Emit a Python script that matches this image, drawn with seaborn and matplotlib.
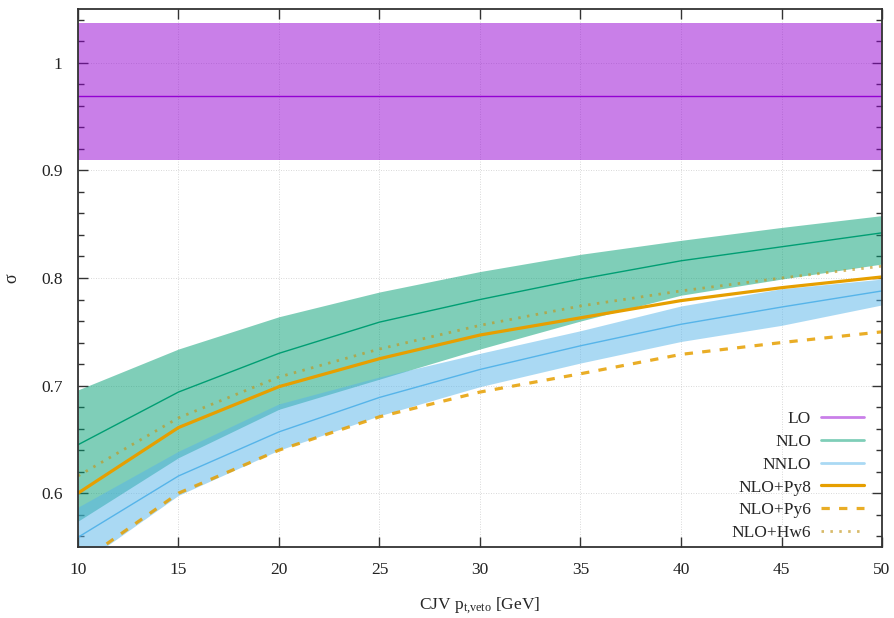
import matplotlib
matplotlib.use("Agg")
import matplotlib.pyplot as plt
import seaborn as sns
import numpy as np
from matplotlib.lines import Line2D
from matplotlib.ticker import MultipleLocator, FormatStrFormatter

# ---- data ----
pt = [10, 15, 20, 25, 30, 35, 40, 45, 50]

lo_center = [0.969] * 9
lo_low = [0.910] * 9
lo_high = [1.037] * 9

nlo_center = [0.645, 0.694, 0.730, 0.759, 0.780, 0.799, 0.816, 0.829, 0.842]
nlo_high = [0.696, 0.734, 0.764, 0.787, 0.806, 0.822, 0.835, 0.847, 0.858]
nlo_low = [0.574, 0.633, 0.678, 0.706, 0.734, 0.760, 0.784, 0.799, 0.813]

nnlo_center = [0.559, 0.616, 0.657, 0.689, 0.715, 0.737, 0.757, 0.773, 0.788]
nnlo_high = [0.587, 0.639, 0.683, 0.708, 0.730, 0.751, 0.774, 0.790, 0.799]
nnlo_low = [0.532, 0.598, 0.640, 0.672, 0.699, 0.721, 0.741, 0.756, 0.775]

py8 = [0.600, 0.661, 0.699, 0.725, 0.747, 0.763, 0.779, 0.791, 0.801]
py6 = [0.534, 0.600, 0.640, 0.671, 0.694, 0.711, 0.729, 0.740, 0.750]
hw6 = [0.616, 0.670, 0.708, 0.734, 0.756, 0.774, 0.788, 0.800, 0.811]

labels = ["LO", "NLO", "NNLO", "NLO+Py8", "NLO+Py6", "NLO+Hw6"]

# ---- style ----
sns.set_style("ticks")
plt.rcParams["font.family"] = ["Liberation Serif", "DejaVu Serif"]
plt.rcParams["mathtext.fontset"] = "custom"
plt.rcParams["mathtext.rm"] = "Liberation Serif"
plt.rcParams["mathtext.it"] = "Liberation Serif:italic"

C_LO = "#9400d3"
C_NLO = "#009e73"
C_NNLO = "#56b4e9"
C_PY = "#e69f00"
C_HW = "#c4961a"

fig = plt.figure(figsize=(8.94, 6.18), dpi=100)
ax = fig.add_axes([0.0872, 0.1149, 0.8994, 0.8705])

# bands
ax.fill_between(pt, lo_low, lo_high, color=C_LO, alpha=0.5, lw=0)
ax.fill_between(pt, nlo_low, nlo_high, color=C_NLO, alpha=0.5, lw=0)
ax.fill_between(pt, nnlo_low, nnlo_high, color=C_NNLO, alpha=0.5, lw=0)

# central lines
sns.lineplot(x=pt, y=lo_center, ax=ax, color=C_LO, lw=1.0)
sns.lineplot(x=pt, y=nlo_center, ax=ax, color=C_NLO, lw=1.0)
sns.lineplot(x=pt, y=nnlo_center, ax=ax, color=C_NNLO, lw=1.0)
sns.lineplot(x=pt, y=hw6, ax=ax, color=C_HW, alpha=0.65, lw=2.0,
             linestyle=(0, (0.9, 2.3)))
sns.lineplot(x=pt, y=py6, ax=ax, color=C_PY, alpha=0.85, lw=2.3,
             linestyle=(0, (2.6, 2.9)))
sns.lineplot(x=pt, y=py8, ax=ax, color=C_PY, lw=2.3)

ax.set_xlim(10, 50)
ax.set_ylim(0.55, 1.05)
ax.xaxis.set_major_locator(MultipleLocator(5))
ax.yaxis.set_major_locator(MultipleLocator(0.1))
ax.yaxis.set_minor_locator(MultipleLocator(0.02))
ax.yaxis.set_major_formatter(FormatStrFormatter("%g"))

ax.tick_params(axis="both", which="both", direction="in", top=True, right=True,
               labelsize=12.5, colors="#333333", labelcolor="#222222")
ax.tick_params(axis="both", which="major", length=7, width=1.0, pad=11)
ax.tick_params(axis="y", which="minor", length=4, width=1.0)
ax.grid(True, which="major", linestyle=(0, (1, 2)), color="#cccccc", lw=0.6)
for s in ax.spines.values():
    s.set_linewidth(1.3)
    s.set_color("#333333")

ax.set_xlabel(r"CJV $\mathregular{p_{t{,}veto}}$ [GeV]", fontsize=12.5, labelpad=12)
ax.set_ylabel("σ", fontsize=13)
ax.yaxis.set_label_coords(-0.072, 0.5)

handles = [
    Line2D([], [], color=C_LO, alpha=0.5, lw=2),
    Line2D([], [], color=C_NLO, alpha=0.5, lw=2),
    Line2D([], [], color=C_NNLO, alpha=0.5, lw=2),
    Line2D([], [], color=C_PY, lw=2.3),
    Line2D([], [], color=C_PY, alpha=0.85, lw=2.3, linestyle=(0, (2.6, 2.9))),
    Line2D([], [], color=C_HW, alpha=0.65, lw=2.0, linestyle=(0, (0.9, 2.3))),
]
leg = ax.legend(handles, labels, loc="lower right", frameon=False,
                markerfirst=False, fontsize=12.5, handlelength=2.5,
                labelspacing=0.38, handletextpad=0.55,
                bbox_to_anchor=(0.997, -0.018))
for t in leg.get_texts():
    t.set_ha("right")

fig.savefig("out.png", dpi=100)
